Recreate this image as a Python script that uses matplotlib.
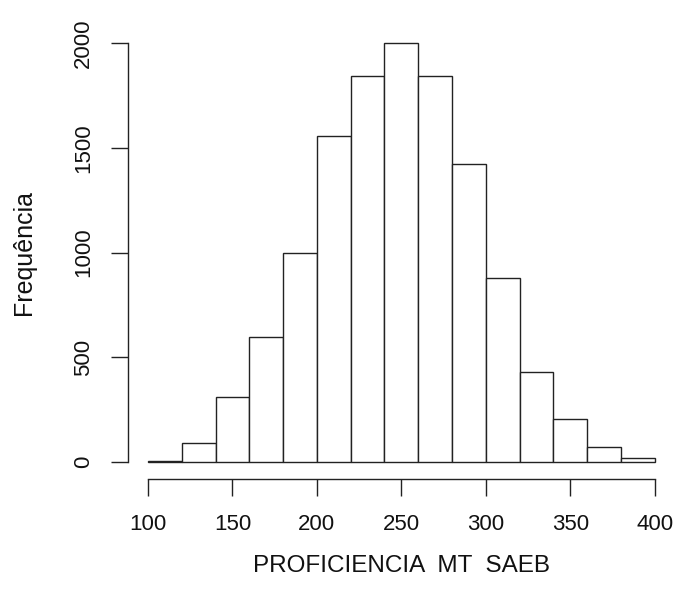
import matplotlib
matplotlib.use('Agg')
import matplotlib.pyplot as plt
import numpy as np

plt.rcParams['font.family'] = ['Liberation Sans', 'DejaVu Sans']

# histogram breaks and counts
breaks = [100, 120, 140, 160, 180, 200, 220, 240, 260, 280, 300, 320, 340, 360, 380, 400]
counts = [6, 90, 310, 597, 998, 1556, 1844, 1999, 1844, 1422, 878, 428, 205, 71, 20]
x_ticks = [100, 150, 200, 250, 300, 350, 400]
y_ticks = [0, 500, 1000, 1500, 2000]

fig = plt.figure(figsize=(6.78, 5.94), dpi=100)
ax = fig.add_axes([0.1883, 0.1939, 0.8073, 0.7615])

left = np.array(breaks[:-1])
widths = np.diff(breaks)
ax.bar(left, counts, width=widths, align='edge',
       facecolor='white', edgecolor='#222222', linewidth=1.0)

ax.set_xlim(88, 412)
ax.set_ylim(-80, 2080)

for side in ['top', 'right']:
    ax.spines[side].set_visible(False)
ax.spines['left'].set_bounds(0, 2000)
ax.spines['bottom'].set_bounds(100, 400)
for side in ['left', 'bottom']:
    ax.spines[side].set_linewidth(1.0)
    ax.spines[side].set_color('#222222')

ax.set_xticks(x_ticks)
ax.set_yticks(y_ticks)
ax.set_yticklabels([str(v) for v in y_ticks], rotation=90, va='center')
ax.tick_params(axis='both', length=12, width=1.0, color='#222222',
               labelsize=16, labelcolor='#111111')
ax.tick_params(axis='x', pad=13)
ax.tick_params(axis='y', pad=12)

ax.set_xlabel('PROFICIENCIA  MT  SAEB', fontsize=17.5, color='#111111', labelpad=15)
ax.set_ylabel('Frequência', fontsize=18, color='#111111', labelpad=27)

fig.savefig('out.png', dpi=100)
